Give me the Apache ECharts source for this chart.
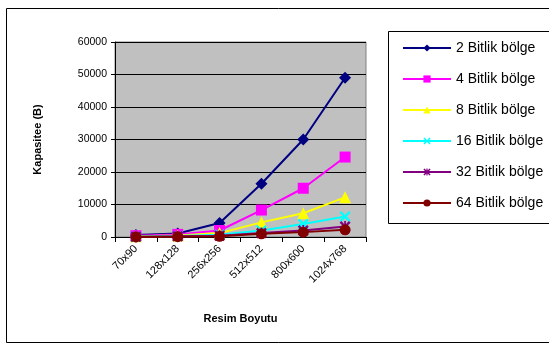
<!DOCTYPE html>
<html><head><meta charset="utf-8">
<script src="https://cdn.jsdelivr.net/npm/echarts@6/dist/echarts.min.js"></script>
<style>html,body{margin:0;padding:0;background:#fff}#c{width:549px;height:350px}</style>
</head><body><div id="c"></div>
<script>
const categories = ["70x90","128x128","256x256","512x512","800x600","1024x768"];
const seriesNames = ["2 Bitlik bölge","4 Bitlik bölge","8 Bitlik bölge","16 Bitlik bölge","32 Bitlik bölge","64 Bitlik bölge"];
const bit2  = [600, 1100, 4300, 16400, 30000, 49000];
const bit4  = [400, 800, 2000, 8300, 15000, 24600];
const bit8  = [200, 500, 1200, 4500, 7300, 12200];
const bit16 = [100, 300, 700, 2000, 4000, 6300];
const bit32 = [50, 200, 400, 1200, 2000, 3200];
const bit64 = [30, 100, 200, 1000, 1500, 2200];
const yTicks = [0, 10000, 20000, 30000, 40000, 50000, 60000];

const colors = ['#000080','#FF00FF','#FFFF00','#00FFFF','#800080','#800000'];
const xPath = 'path://M0,1.5L1.5,0L5,3.5L8.5,0L10,1.5L6.5,5L10,8.5L8.5,10L5,6.5L1.5,10L0,8.5L3.5,5Z';
const starPath = 'path://M0,1.5L1.5,0L5,3.5L8.5,0L10,1.5L6.5,5L10,8.5L8.5,10L5,6.5L1.5,10L0,8.5L3.5,5Z M4.2,0L5.8,0L5.8,10L4.2,10Z';
const symbols = ['diamond','rect','triangle',xPath,starPath,'circle'];
const sizes = [12,11,12,11,11,11];
const data = [bit2,bit4,bit8,bit16,bit32,bit64];

const chart = echarts.init(document.getElementById('c'), null, {renderer:'canvas'});
chart.setOption({
  animation:false,
  textStyle:{fontFamily:'Liberation Sans, Arial, sans-serif'},
  grid:{left:115,right:183,top:42,bottom:113,show:true,backgroundColor:'#C0C0C0',borderColor:'#808080',borderWidth:1},
  graphic:[
    {type:'rect',shape:{x:6.5,y:8.5,width:600,height:334},style:{fill:'none',stroke:'#000',lineWidth:1},z:-1},
    {type:'rect',shape:{x:388.5,y:31.5,width:200,height:192},style:{fill:'#fff',stroke:'#000',lineWidth:1},z:0}
  ],
  legend:{
    orient:'vertical',left:397,top:36,itemWidth:48,itemHeight:9,itemGap:17,
    textStyle:{fontSize:14,color:'#000',fontFamily:'Liberation Sans, Arial, sans-serif'},
    data:seriesNames, z:5
  },
  xAxis:{
    type:'category',data:categories,boundaryGap:true,
    axisLine:{lineStyle:{color:'#000',width:1}},
    axisTick:{show:true,length:5,alignWithLabel:false,lineStyle:{color:'#000'}},
    axisLabel:{rotate:45,fontSize:11,color:'#000',margin:10},
    name:'Resim Boyutu',nameLocation:'middle',nameGap:76,
    nameTextStyle:{fontSize:11,fontWeight:'bold',color:'#000'}
  },
  yAxis:{
    type:'value',min:yTicks[0],max:yTicks[yTicks.length-1],interval:10000,
    axisLine:{show:true,lineStyle:{color:'#000',width:1}},
    axisTick:{show:true,length:4,lineStyle:{color:'#000'}},
    axisLabel:{fontSize:10.5,color:'#000',margin:8,formatter:v=>String(v)},
    splitLine:{lineStyle:{color:'#000',width:1}},
    name:'Kapasitee (B)',nameLocation:'middle',nameGap:72,nameRotate:90,
    nameTextStyle:{fontSize:11,fontWeight:'bold',color:'#000'}
  },
  series:seriesNames.map((n,i)=>({
    name:n,type:'line',data:data[i],symbol:symbols[i],symbolSize:sizes[i],showAllSymbol:true,
    lineStyle:{color:colors[i],width:2},itemStyle:{color:colors[i],opacity:1},
    z:2+i
  }))
});
</script></body></html>
